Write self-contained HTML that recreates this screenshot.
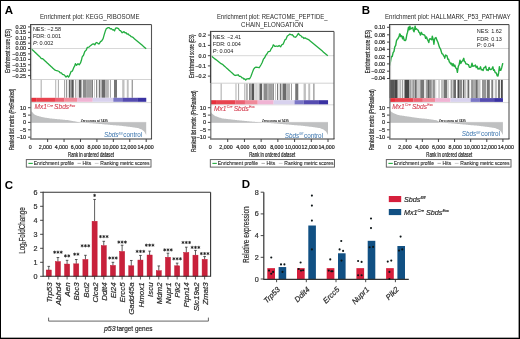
<!DOCTYPE html>
<html><head><meta charset="utf-8"><style>
html,body{margin:0;padding:0;background:#fff;}
.wrap{position:relative;width:520px;height:339px;overflow:hidden;background:#fff;}
svg{position:absolute;left:0;top:0;will-change:transform;}
svg text{font-family:"Liberation Sans", sans-serif;stroke:#2a2a2a;stroke-width:0.2px;}
svg text.r{stroke:#d33a4c;stroke-width:0.08px;}
svg text.bl{stroke:none;}
svg text.ns{stroke:none;}
svg text.th{stroke-width:0.1px;}
.b{position:absolute;left:0;top:0;width:518px;height:337px;border:1px solid #000;box-shadow:inset -0.6px -0.6px 0 #555;}
</style></head><body><div class="wrap">
<svg width="520" height="339" viewBox="0 0 520 339">
<line x1="31.60" y1="48.50" x2="151.50" y2="48.50" stroke="#d4d4d4" stroke-width="0.9" />
<line x1="30.60" y1="79.50" x2="151.50" y2="79.50" stroke="#c8c8c8" stroke-width="0.8" />
<line x1="30.60" y1="102.60" x2="151.50" y2="102.60" stroke="#d0d0d0" stroke-width="0.8" />
<rect x="40.70" y="79.90" width="0.90" height="17.90" fill="rgb(160,160,160)" />
<rect x="55.30" y="79.90" width="0.90" height="17.90" fill="rgb(171,171,171)" />
<rect x="57.90" y="79.90" width="0.90" height="17.90" fill="rgb(160,160,160)" />
<rect x="64.00" y="79.90" width="0.90" height="17.90" fill="rgb(160,160,160)" />
<rect x="65.90" y="79.90" width="1.30" height="17.90" fill="rgb(150,150,150)" />
<rect x="68.80" y="79.90" width="1.30" height="17.90" fill="rgb(97,97,97)" />
<rect x="70.10" y="79.90" width="1.30" height="17.90" fill="rgb(160,160,160)" />
<rect x="71.40" y="79.90" width="2.30" height="17.90" fill="rgb(87,87,87)" />
<rect x="75.00" y="79.90" width="1.00" height="17.90" fill="rgb(171,171,171)" />
<rect x="76.00" y="79.90" width="2.90" height="17.90" fill="rgb(223,223,223)" />
<rect x="78.90" y="79.90" width="2.60" height="17.90" fill="rgb(97,97,97)" />
<rect x="82.80" y="79.90" width="3.90" height="17.90" fill="rgb(139,139,139)" />
<rect x="86.70" y="79.90" width="1.30" height="17.90" fill="rgb(160,160,160)" />
<rect x="88.00" y="79.90" width="3.90" height="17.90" fill="rgb(160,160,160)" />
<rect x="91.90" y="79.90" width="1.10" height="17.90" fill="rgb(129,129,129)" />
<rect x="94.30" y="79.90" width="0.60" height="17.90" fill="rgb(171,171,171)" />
<rect x="96.20" y="79.90" width="1.00" height="17.90" fill="rgb(108,108,108)" />
<rect x="98.80" y="79.90" width="1.30" height="17.90" fill="rgb(118,118,118)" />
<rect x="100.10" y="79.90" width="1.60" height="17.90" fill="rgb(192,192,192)" />
<rect x="101.70" y="79.90" width="3.30" height="17.90" fill="rgb(108,108,108)" />
<rect x="105.00" y="79.90" width="3.90" height="17.90" fill="rgb(181,181,181)" />
<rect x="109.90" y="79.90" width="0.90" height="17.90" fill="rgb(150,150,150)" />
<rect x="114.00" y="79.90" width="3.00" height="17.90" fill="rgb(118,118,118)" />
<rect x="122.20" y="79.90" width="2.30" height="17.90" fill="rgb(192,192,192)" />
<rect x="126.80" y="79.90" width="1.90" height="17.90" fill="rgb(192,192,192)" />
<rect x="131.60" y="79.90" width="1.40" height="17.90" fill="rgb(160,160,160)" />
<rect x="31.20" y="97.80" width="4.99" height="4.00" fill="#e72f3b" />
<rect x="36.14" y="97.80" width="18.91" height="4.00" fill="#e8434f" />
<rect x="55.00" y="97.80" width="9.59" height="4.00" fill="#eb6273" />
<rect x="64.55" y="97.80" width="12.59" height="4.00" fill="#f08a9a" />
<rect x="77.08" y="97.80" width="15.69" height="4.00" fill="#f0b4d4" />
<rect x="92.72" y="97.80" width="20.63" height="4.00" fill="#d8d2ee" />
<rect x="113.31" y="97.80" width="9.02" height="4.00" fill="#7b77c6" />
<rect x="122.28" y="97.80" width="15.00" height="4.00" fill="#554cb0" />
<rect x="137.23" y="97.80" width="9.02" height="4.00" fill="#3a32a2" />
<polygon points="31.20,122.40 31.20,111.15 31.81,111.62 32.42,112.32 33.03,113.01 33.64,113.71 34.25,114.32 34.86,114.63 35.47,114.94 36.08,115.25 36.69,115.56 37.30,115.80 37.91,115.96 38.52,116.12 39.13,116.27 39.74,116.43 40.35,116.59 40.96,116.74 41.57,116.90 42.18,117.05 42.79,117.21 43.40,117.37 44.01,117.46 44.62,117.55 45.23,117.65 45.84,117.74 46.45,117.83 47.06,117.92 47.67,118.02 48.28,118.11 48.89,118.20 49.50,118.29 50.11,118.39 50.72,118.48 51.33,118.56 51.94,118.62 52.55,118.68 53.16,118.74 53.77,118.79 54.38,118.85 54.99,118.91 55.60,118.97 56.21,119.03 56.82,119.08 57.43,119.14 58.04,119.20 58.65,119.26 59.26,119.31 59.87,119.37 60.48,119.43 61.09,119.48 61.70,119.54 62.31,119.60 62.92,119.65 63.53,119.71 64.14,119.77 64.75,119.82 65.36,119.88 65.97,119.94 66.58,119.99 67.19,120.05 67.80,120.11 68.41,120.22 69.02,120.34 69.63,120.45 70.24,120.56 70.85,120.68 71.46,120.79 72.07,120.91 72.68,121.02 73.29,121.14 73.90,121.25 74.51,121.37 75.12,121.48 75.73,121.60 76.34,121.71 76.95,121.83 77.56,121.94 78.17,122.06 78.78,122.17 79.39,122.29 80.00,122.40 80.00,122.40" fill="#bfc0c1"/>
<polygon points="80.00,122.40 80.00,122.40 80.83,122.46 81.66,122.53 82.48,122.59 83.31,122.65 84.14,122.71 84.97,122.78 85.79,122.84 86.62,122.90 87.45,122.97 88.28,123.03 89.10,123.09 89.93,123.15 90.76,123.22 91.58,123.28 92.41,123.34 93.24,123.41 94.07,123.47 94.89,123.53 95.72,123.60 96.55,123.66 97.38,123.73 98.20,123.81 99.03,123.88 99.86,123.95 100.69,124.03 101.52,124.10 102.34,124.18 103.17,124.25 104.00,124.32 104.82,124.40 105.65,124.47 106.48,124.55 107.31,124.62 108.13,124.69 108.96,124.77 109.79,124.84 110.62,124.92 111.44,124.99 112.27,125.06 113.10,125.14 113.93,125.21 114.75,125.28 115.58,125.35 116.41,125.42 117.24,125.48 118.06,125.55 118.89,125.62 119.72,125.69 120.55,125.76 121.38,125.85 122.20,125.95 123.03,126.05 123.86,126.15 124.69,126.26 125.51,126.36 126.34,126.46 127.17,126.56 127.99,126.67 128.82,126.77 129.65,126.87 130.48,126.98 131.31,127.08 132.13,127.18 132.96,127.28 133.79,127.42 134.61,127.56 135.44,127.70 136.27,127.84 137.10,127.98 137.92,128.12 138.75,128.37 139.58,128.70 140.41,129.04 141.23,129.37 142.06,129.84 142.89,130.39 143.72,130.95 144.54,131.90 145.37,133.44 146.20,134.98 146.20,122.40" fill="#bfc0c1"/>
<line x1="31.20" y1="122.40" x2="146.20" y2="122.40" stroke="#b0b0b0" stroke-width="0.5" />
<text x="80.80" y="121.70" font-size="3.0" text-anchor="start" fill="#000" textLength="27.0" lengthAdjust="spacingAndGlyphs" class="th">Zero cross at 7435</text>
<polyline points="31.00,48.50 31.92,49.36 32.84,50.23 33.75,51.09 34.67,51.95 35.59,52.82 36.51,53.68 37.43,54.55 38.35,55.41 39.26,56.27 40.18,57.14 41.10,58.48 42.50,58.60 43.44,59.47 44.39,60.34 45.33,61.21 46.27,62.09 47.21,62.96 48.16,63.83 49.10,64.70 50.04,65.57 50.99,66.44 51.93,67.31 52.87,68.19 53.81,69.06 54.76,69.93 55.70,70.32 57.50,70.77 59.10,71.52 60.23,72.91 61.37,72.83 62.50,74.38 64.20,74.84 66.00,76.96 67.50,75.64 68.50,77.15 69.40,75.79 70.20,73.80 71.10,71.41 72.30,71.20 73.70,67.70 74.50,66.48 75.40,63.66 76.50,65.31 78.00,63.76 79.20,64.76 80.50,62.94 81.40,60.31 82.20,56.84 83.50,55.28 84.80,51.54 86.20,50.13 87.40,47.35 89.00,47.03 90.50,45.64 92.30,44.16 94.00,43.80 94.80,44.93 96.20,42.50 97.40,42.89 98.30,43.79 99.10,43.86 100.50,41.57 101.70,40.91 103.10,38.63 104.30,34.42 105.30,31.07 106.50,28.27 107.30,28.11 108.20,27.59 109.20,27.59 110.30,28.91 111.40,28.65 112.50,29.91 113.50,29.76 114.50,30.92 115.60,28.13 116.80,27.83 118.50,28.56 119.50,30.27 120.50,30.54 122.20,32.76 124.00,31.59 125.00,32.90 126.00,32.73 127.10,34.15 128.20,33.98 129.10,35.18 130.00,35.34 131.25,36.74 132.50,37.10 133.41,37.87 134.33,38.65 135.24,39.42 136.15,40.19 137.07,40.97 137.98,41.74 138.89,42.51 139.81,43.29 140.72,44.06 141.63,44.83 142.55,45.61 143.46,46.38 144.37,47.15 145.29,47.93 146.20,48.70" fill="none" stroke="#22ad3f" stroke-width="1.3" stroke-linejoin="round"/>
<line x1="30.60" y1="24.60" x2="151.50" y2="24.60" stroke="#3a3a3a" stroke-width="1" />
<line x1="151.50" y1="24.60" x2="151.50" y2="139.00" stroke="#555" stroke-width="1.1" />
<line x1="30.10" y1="139.00" x2="152.00" y2="139.00" stroke="#333" stroke-width="1" />
<line x1="30.60" y1="24.10" x2="30.60" y2="79.50" stroke="#444" stroke-width="1.1" />
<line x1="31.60" y1="25.10" x2="31.60" y2="79.50" stroke="#b8b8b8" stroke-width="0.8" />
<line x1="30.90" y1="79.50" x2="30.90" y2="139.00" stroke="#6e6e6e" stroke-width="1.2" />
<line x1="28.00" y1="26.90" x2="30.60" y2="26.90" stroke="#333" stroke-width="0.9" />
<text x="26.00" y="28.80" font-size="5.4" text-anchor="end" fill="#222" >0.20</text>
<line x1="28.00" y1="32.30" x2="30.60" y2="32.30" stroke="#333" stroke-width="0.9" />
<text x="26.00" y="34.20" font-size="5.4" text-anchor="end" fill="#222" >0.15</text>
<line x1="28.00" y1="37.70" x2="30.60" y2="37.70" stroke="#333" stroke-width="0.9" />
<text x="26.00" y="39.60" font-size="5.4" text-anchor="end" fill="#222" >0.10</text>
<line x1="28.00" y1="43.20" x2="30.60" y2="43.20" stroke="#333" stroke-width="0.9" />
<text x="26.00" y="45.10" font-size="5.4" text-anchor="end" fill="#222" >0.05</text>
<line x1="28.00" y1="48.50" x2="30.60" y2="48.50" stroke="#333" stroke-width="0.9" />
<text x="26.00" y="50.40" font-size="5.4" text-anchor="end" fill="#222" >0.00</text>
<line x1="28.00" y1="53.90" x2="30.60" y2="53.90" stroke="#333" stroke-width="0.9" />
<text x="26.00" y="55.80" font-size="5.4" text-anchor="end" fill="#222" >−0.05</text>
<line x1="28.00" y1="59.40" x2="30.60" y2="59.40" stroke="#333" stroke-width="0.9" />
<text x="26.00" y="61.30" font-size="5.4" text-anchor="end" fill="#222" >−0.10</text>
<line x1="28.00" y1="64.80" x2="30.60" y2="64.80" stroke="#333" stroke-width="0.9" />
<text x="26.00" y="66.70" font-size="5.4" text-anchor="end" fill="#222" >−0.15</text>
<line x1="28.00" y1="70.20" x2="30.60" y2="70.20" stroke="#333" stroke-width="0.9" />
<text x="26.00" y="72.10" font-size="5.4" text-anchor="end" fill="#222" >−0.20</text>
<line x1="28.00" y1="75.60" x2="30.60" y2="75.60" stroke="#333" stroke-width="0.9" />
<text x="26.00" y="77.50" font-size="5.4" text-anchor="end" fill="#222" >−0.25</text>
<line x1="28.00" y1="107.70" x2="30.60" y2="107.70" stroke="#333" stroke-width="0.9" />
<text x="26.20" y="109.70" font-size="5.6" text-anchor="end" fill="#222" >10</text>
<line x1="28.00" y1="115.10" x2="30.60" y2="115.10" stroke="#333" stroke-width="0.9" />
<text x="26.20" y="117.10" font-size="5.6" text-anchor="end" fill="#222" >5</text>
<line x1="28.00" y1="122.40" x2="30.60" y2="122.40" stroke="#333" stroke-width="0.9" />
<text x="26.20" y="124.40" font-size="5.6" text-anchor="end" fill="#222" >0</text>
<line x1="28.00" y1="129.80" x2="30.60" y2="129.80" stroke="#333" stroke-width="0.9" />
<text x="26.20" y="131.80" font-size="5.6" text-anchor="end" fill="#222" >−5</text>
<line x1="28.00" y1="137.20" x2="30.60" y2="137.20" stroke="#333" stroke-width="0.9" />
<text x="26.20" y="139.20" font-size="5.6" text-anchor="end" fill="#222" >−10</text>
<text x="30.15" y="149.00" font-size="5.3" text-anchor="middle" fill="#222" >0</text>
<line x1="47.63" y1="139.00" x2="47.63" y2="142.00" stroke="#333" stroke-width="0.9" />
<text x="45.35" y="149.00" font-size="5.3" text-anchor="middle" fill="#222" >2,000</text>
<line x1="64.06" y1="139.00" x2="64.06" y2="142.00" stroke="#333" stroke-width="0.9" />
<text x="61.30" y="149.00" font-size="5.3" text-anchor="middle" fill="#222" >4,000</text>
<line x1="80.49" y1="139.00" x2="80.49" y2="142.00" stroke="#333" stroke-width="0.9" />
<text x="77.50" y="149.00" font-size="5.3" text-anchor="middle" fill="#222" >6,000</text>
<line x1="96.91" y1="139.00" x2="96.91" y2="142.00" stroke="#333" stroke-width="0.9" />
<text x="94.10" y="149.00" font-size="5.3" text-anchor="middle" fill="#222" >8,000</text>
<line x1="113.34" y1="139.00" x2="113.34" y2="142.00" stroke="#333" stroke-width="0.9" />
<text x="110.60" y="149.00" font-size="5.3" text-anchor="middle" fill="#222" >10,000</text>
<line x1="129.77" y1="139.00" x2="129.77" y2="142.00" stroke="#333" stroke-width="0.9" />
<text x="128.30" y="149.00" font-size="5.3" text-anchor="middle" fill="#222" >12,000</text>
<line x1="146.20" y1="139.00" x2="146.20" y2="142.00" stroke="#333" stroke-width="0.9" />
<text x="145.60" y="149.00" font-size="5.3" text-anchor="middle" fill="#222" >14,000</text>
<text x="40.00" y="19.00" font-size="6.6" text-anchor="start" fill="#2a2a2a" textLength="99.5" lengthAdjust="spacingAndGlyphs" class="ns">Enrichment plot: KEGG_RIBOSOME</text>
<text x="32.90" y="30.70" font-size="5.5" text-anchor="start" fill="#1a1a1a" class="ns">NES: −2.58</text>
<text x="32.90" y="37.60" font-size="5.5" text-anchor="start" fill="#1a1a1a" class="ns">FDR: 0.001</text>
<text x="32.90" y="44.60" font-size="5.5" text-anchor="start" fill="#1a1a1a" class="ns"><tspan font-style="italic">P</tspan>: 0.002</text>
<text x="91.05" y="156.80" font-size="6.4" text-anchor="middle" fill="#111" textLength="46" lengthAdjust="spacingAndGlyphs" >Rank in ordered dataset</text>
<text transform="translate(10.10,50.90) rotate(-90)" font-size="6.5" text-anchor="middle" fill="#222" textLength="43.6" lengthAdjust="spacingAndGlyphs">Enrichment score (ES)</text>
<text transform="translate(13.90,119.50) rotate(-90)" font-size="6.8" text-anchor="middle" fill="#222" textLength="61.2" lengthAdjust="spacingAndGlyphs">Ranked list metric (PreRanked)</text>
<text x="34.40" y="109.3" font-size="6.6" font-style="italic" fill="#d33a4c" class="r">Mx1<tspan font-size="3.5" dy="-2.6" dx="0.4">Cre</tspan><tspan dy="2.6" dx="1.2">Sbds</tspan><tspan font-size="3.5" dy="-2.6" dx="0.3">Exc</tspan></text>
<text x="104.00" y="137.2" font-size="6.35" fill="#3a74ad" class="bl"><tspan font-style="italic">Sbds</tspan><tspan font-size="3.0" dy="-2.6" font-style="italic">fl/fl</tspan><tspan dy="2.6" dx="0.9">control</tspan></text>
<rect x="26.30" y="159.6" width="124.70" height="7.5" fill="#fff" stroke="#555" stroke-width="0.9"/>
<line x1="28.40" y1="163.40" x2="32.80" y2="163.40" stroke="#22ad3f" stroke-width="1.1" />
<text x="33.80" y="165.20" font-size="5.4" text-anchor="start" fill="#222" textLength="40.2" lengthAdjust="spacingAndGlyphs" class="th">Enrichment profile</text>
<line x1="77.50" y1="163.40" x2="80.90" y2="163.40" stroke="#777" stroke-width="0.6" />
<text x="82.50" y="165.20" font-size="5.4" text-anchor="start" fill="#222" textLength="8.7" lengthAdjust="spacingAndGlyphs" class="th">Hits</text>
<line x1="94.80" y1="163.40" x2="98.60" y2="163.40" stroke="#aaa" stroke-width="0.6" />
<text x="100.30" y="165.20" font-size="5.4" text-anchor="start" fill="#222" textLength="49.2" lengthAdjust="spacingAndGlyphs" class="th">Ranking metric scores</text>
<line x1="211.50" y1="55.70" x2="334.00" y2="55.70" stroke="#d4d4d4" stroke-width="0.9" />
<line x1="210.50" y1="83.20" x2="334.00" y2="83.20" stroke="#c8c8c8" stroke-width="0.8" />
<line x1="210.50" y1="104.80" x2="334.00" y2="104.80" stroke="#d0d0d0" stroke-width="0.8" />
<rect x="220.67" y="83.60" width="0.92" height="16.60" fill="rgb(160,160,160)" />
<rect x="235.52" y="83.60" width="0.92" height="16.60" fill="rgb(171,171,171)" />
<rect x="238.16" y="83.60" width="0.92" height="16.60" fill="rgb(160,160,160)" />
<rect x="244.37" y="83.60" width="0.92" height="16.60" fill="rgb(160,160,160)" />
<rect x="246.30" y="83.60" width="1.32" height="16.60" fill="rgb(150,150,150)" />
<rect x="249.25" y="83.60" width="1.32" height="16.60" fill="rgb(97,97,97)" />
<rect x="250.58" y="83.60" width="1.32" height="16.60" fill="rgb(160,160,160)" />
<rect x="251.90" y="83.60" width="2.34" height="16.60" fill="rgb(87,87,87)" />
<rect x="255.56" y="83.60" width="1.02" height="16.60" fill="rgb(171,171,171)" />
<rect x="256.58" y="83.60" width="2.95" height="16.60" fill="rgb(223,223,223)" />
<rect x="259.53" y="83.60" width="2.65" height="16.60" fill="rgb(97,97,97)" />
<rect x="263.50" y="83.60" width="3.97" height="16.60" fill="rgb(139,139,139)" />
<rect x="267.47" y="83.60" width="1.32" height="16.60" fill="rgb(160,160,160)" />
<rect x="268.79" y="83.60" width="3.97" height="16.60" fill="rgb(160,160,160)" />
<rect x="272.76" y="83.60" width="1.12" height="16.60" fill="rgb(129,129,129)" />
<rect x="275.20" y="83.60" width="0.61" height="16.60" fill="rgb(171,171,171)" />
<rect x="277.13" y="83.60" width="1.02" height="16.60" fill="rgb(108,108,108)" />
<rect x="279.78" y="83.60" width="1.32" height="16.60" fill="rgb(118,118,118)" />
<rect x="281.10" y="83.60" width="1.63" height="16.60" fill="rgb(192,192,192)" />
<rect x="282.73" y="83.60" width="3.36" height="16.60" fill="rgb(108,108,108)" />
<rect x="286.08" y="83.60" width="3.97" height="16.60" fill="rgb(181,181,181)" />
<rect x="291.07" y="83.60" width="0.92" height="16.60" fill="rgb(150,150,150)" />
<rect x="295.24" y="83.60" width="3.05" height="16.60" fill="rgb(118,118,118)" />
<rect x="303.58" y="83.60" width="2.34" height="16.60" fill="rgb(192,192,192)" />
<rect x="308.26" y="83.60" width="1.93" height="16.60" fill="rgb(192,192,192)" />
<rect x="313.15" y="83.60" width="1.42" height="16.60" fill="rgb(160,160,160)" />
<rect x="211.00" y="100.20" width="5.08" height="4.10" fill="#e72f3b" />
<rect x="216.03" y="100.20" width="19.24" height="4.10" fill="#e8434f" />
<rect x="235.22" y="100.20" width="9.76" height="4.10" fill="#eb6273" />
<rect x="244.93" y="100.20" width="12.80" height="4.10" fill="#f08a9a" />
<rect x="257.68" y="100.20" width="15.96" height="4.10" fill="#f0b4d4" />
<rect x="273.60" y="100.20" width="20.99" height="4.10" fill="#d8d2ee" />
<rect x="294.54" y="100.20" width="9.18" height="4.10" fill="#7b77c6" />
<rect x="303.66" y="100.20" width="15.26" height="4.10" fill="#554cb0" />
<rect x="318.87" y="100.20" width="9.18" height="4.10" fill="#3a32a2" />
<polygon points="211.00,122.40 211.00,112.04 211.62,113.32 212.25,113.83 212.88,114.33 213.50,114.83 214.12,115.33 214.75,115.84 215.38,116.16 216.00,116.37 216.62,116.59 217.25,116.80 217.88,117.01 218.50,117.22 219.12,117.43 219.75,117.64 220.38,117.85 221.00,118.07 221.62,118.28 222.25,118.43 222.88,118.50 223.50,118.57 224.12,118.65 224.75,118.72 225.38,118.79 226.00,118.86 226.62,118.93 227.25,119.00 227.88,119.07 228.50,119.14 229.12,119.21 229.75,119.28 230.38,119.35 231.00,119.43 231.62,119.50 232.25,119.57 232.88,119.64 233.50,119.71 234.12,119.78 234.75,119.85 235.38,119.92 236.00,119.99 236.62,120.06 237.25,120.13 237.88,120.19 238.50,120.26 239.12,120.32 239.75,120.38 240.38,120.44 241.00,120.51 241.62,120.57 242.25,120.63 242.88,120.69 243.50,120.76 244.12,120.82 244.75,120.88 245.38,120.94 246.00,121.01 246.62,121.07 247.25,121.13 247.88,121.19 248.50,121.26 249.12,121.32 249.75,121.38 250.38,121.45 251.00,121.51 251.62,121.57 252.25,121.63 252.88,121.70 253.50,121.76 254.12,121.82 254.75,121.87 255.38,121.92 256.00,121.98 256.62,122.03 257.25,122.08 257.88,122.14 258.50,122.19 259.12,122.24 259.75,122.29 260.38,122.35 261.00,122.40 261.00,122.40" fill="#bfc0c1"/>
<polygon points="261.00,122.40 261.00,122.40 261.84,122.46 262.68,122.53 263.51,122.59 264.35,122.65 265.19,122.71 266.02,122.78 266.86,122.84 267.70,122.90 268.54,122.97 269.38,123.03 270.21,123.09 271.05,123.15 271.89,123.22 272.73,123.28 273.56,123.34 274.40,123.41 275.24,123.47 276.07,123.53 276.91,123.60 277.75,123.66 278.59,123.73 279.43,123.81 280.26,123.88 281.10,123.95 281.94,124.03 282.77,124.10 283.61,124.18 284.45,124.25 285.29,124.32 286.12,124.40 286.96,124.47 287.80,124.55 288.64,124.62 289.48,124.69 290.31,124.77 291.15,124.84 291.99,124.92 292.82,124.99 293.66,125.06 294.50,125.14 295.34,125.21 296.18,125.28 297.01,125.35 297.85,125.42 298.69,125.48 299.52,125.55 300.36,125.62 301.20,125.69 302.04,125.76 302.88,125.85 303.71,125.95 304.55,126.05 305.39,126.15 306.23,126.26 307.06,126.36 307.90,126.46 308.74,126.56 309.57,126.67 310.41,126.77 311.25,126.87 312.09,126.98 312.93,127.08 313.76,127.18 314.60,127.28 315.44,127.42 316.27,127.56 317.11,127.70 317.95,127.84 318.79,127.98 319.62,128.12 320.46,128.37 321.30,128.70 322.14,129.04 322.98,129.37 323.81,129.84 324.65,130.39 325.49,130.95 326.32,131.90 327.16,133.44 328.00,134.98 328.00,122.40" fill="#bfc0c1"/>
<line x1="211.00" y1="122.40" x2="328.00" y2="122.40" stroke="#b0b0b0" stroke-width="0.5" />
<text x="262.10" y="121.70" font-size="3.0" text-anchor="start" fill="#000" textLength="26.599999999999966" lengthAdjust="spacingAndGlyphs" class="th">Zero cross at 7435</text>
<polyline points="211.00,55.80 211.92,56.52 212.83,57.23 213.75,57.95 214.67,58.67 215.58,59.38 216.50,60.10 217.42,60.82 218.33,61.53 219.25,62.25 220.17,62.97 221.08,63.68 222.00,64.03 223.00,64.80 223.95,65.65 224.89,66.51 225.84,67.36 226.78,68.22 227.73,69.07 228.68,69.92 229.62,70.78 230.57,71.63 231.52,72.48 232.46,73.34 233.41,74.19 234.35,75.05 235.30,75.49 236.90,75.03 238.15,74.77 239.40,76.31 240.70,76.38 242.00,77.96 242.93,77.94 243.85,79.18 244.77,78.77 245.70,80.07 247.00,78.81 248.50,78.71 249.50,78.96 251.00,76.24 252.30,72.65 253.50,69.45 254.80,67.77 256.00,67.05 257.50,67.33 259.20,67.72 260.90,64.99 262.20,62.43 263.40,59.20 264.65,57.72 265.90,55.11 267.10,53.80 268.30,51.55 270.00,51.32 271.50,48.27 272.40,47.39 273.30,44.84 275.00,46.45 276.60,46.01 277.85,46.49 279.10,45.41 280.70,46.72 282.00,44.52 283.20,44.09 284.90,39.91 286.00,39.26 287.30,36.05 288.50,35.28 289.80,34.09 291.05,34.80 292.30,34.73 294.00,36.76 295.60,37.24 297.00,35.65 298.40,33.41 299.70,35.17 301.00,35.74 301.93,37.17 302.87,37.15 303.80,38.46 305.05,37.88 306.30,38.60 308.00,39.33 309.60,40.40 310.51,41.16 311.42,41.93 312.33,42.70 313.24,43.46 314.15,44.23 315.06,44.99 315.97,45.76 316.88,46.52 317.79,47.29 318.70,48.05 319.61,48.81 320.52,49.58 321.43,50.34 322.34,51.11 323.25,51.88 324.16,52.64 325.07,53.41 325.98,54.17 326.89,54.94 327.80,55.70" fill="none" stroke="#22ad3f" stroke-width="1.3" stroke-linejoin="round"/>
<line x1="210.50" y1="31.40" x2="334.00" y2="31.40" stroke="#3a3a3a" stroke-width="1" />
<line x1="334.00" y1="31.40" x2="334.00" y2="139.00" stroke="#555" stroke-width="1.1" />
<line x1="210.00" y1="139.00" x2="334.50" y2="139.00" stroke="#333" stroke-width="1" />
<line x1="210.50" y1="30.90" x2="210.50" y2="83.20" stroke="#444" stroke-width="1.1" />
<line x1="211.50" y1="31.90" x2="211.50" y2="83.20" stroke="#b8b8b8" stroke-width="0.8" />
<line x1="210.80" y1="83.20" x2="210.80" y2="139.00" stroke="#6e6e6e" stroke-width="1.2" />
<line x1="207.90" y1="35.10" x2="210.50" y2="35.10" stroke="#333" stroke-width="0.9" />
<text x="205.90" y="37.00" font-size="5.4" text-anchor="end" fill="#222" >0.2</text>
<line x1="207.90" y1="45.40" x2="210.50" y2="45.40" stroke="#333" stroke-width="0.9" />
<text x="205.90" y="47.30" font-size="5.4" text-anchor="end" fill="#222" >0.1</text>
<line x1="207.90" y1="55.70" x2="210.50" y2="55.70" stroke="#333" stroke-width="0.9" />
<text x="205.90" y="57.60" font-size="5.4" text-anchor="end" fill="#222" >0.0</text>
<line x1="207.90" y1="65.90" x2="210.50" y2="65.90" stroke="#333" stroke-width="0.9" />
<text x="205.90" y="67.80" font-size="5.4" text-anchor="end" fill="#222" >−0.1</text>
<line x1="207.90" y1="76.10" x2="210.50" y2="76.10" stroke="#333" stroke-width="0.9" />
<text x="205.90" y="78.00" font-size="5.4" text-anchor="end" fill="#222" >−0.2</text>
<line x1="207.90" y1="107.70" x2="210.50" y2="107.70" stroke="#333" stroke-width="0.9" />
<text x="206.10" y="109.70" font-size="5.6" text-anchor="end" fill="#222" >10</text>
<line x1="207.90" y1="115.10" x2="210.50" y2="115.10" stroke="#333" stroke-width="0.9" />
<text x="206.10" y="117.10" font-size="5.6" text-anchor="end" fill="#222" >5</text>
<line x1="207.90" y1="122.40" x2="210.50" y2="122.40" stroke="#333" stroke-width="0.9" />
<text x="206.10" y="124.40" font-size="5.6" text-anchor="end" fill="#222" >0</text>
<line x1="207.90" y1="129.80" x2="210.50" y2="129.80" stroke="#333" stroke-width="0.9" />
<text x="206.10" y="131.80" font-size="5.6" text-anchor="end" fill="#222" >−5</text>
<line x1="207.90" y1="137.20" x2="210.50" y2="137.20" stroke="#333" stroke-width="0.9" />
<text x="206.10" y="139.20" font-size="5.6" text-anchor="end" fill="#222" >−10</text>
<text x="210.25" y="149.00" font-size="5.3" text-anchor="middle" fill="#222" >0</text>
<line x1="227.71" y1="139.00" x2="227.71" y2="142.00" stroke="#333" stroke-width="0.9" />
<text x="226.00" y="149.00" font-size="5.3" text-anchor="middle" fill="#222" >2,000</text>
<line x1="244.43" y1="139.00" x2="244.43" y2="142.00" stroke="#333" stroke-width="0.9" />
<text x="242.80" y="149.00" font-size="5.3" text-anchor="middle" fill="#222" >4,000</text>
<line x1="261.14" y1="139.00" x2="261.14" y2="142.00" stroke="#333" stroke-width="0.9" />
<text x="259.70" y="149.00" font-size="5.3" text-anchor="middle" fill="#222" >6,000</text>
<line x1="277.86" y1="139.00" x2="277.86" y2="142.00" stroke="#333" stroke-width="0.9" />
<text x="276.80" y="149.00" font-size="5.3" text-anchor="middle" fill="#222" >8,000</text>
<line x1="294.57" y1="139.00" x2="294.57" y2="142.00" stroke="#333" stroke-width="0.9" />
<text x="293.10" y="149.00" font-size="5.3" text-anchor="middle" fill="#222" >10,000</text>
<line x1="311.29" y1="139.00" x2="311.29" y2="142.00" stroke="#333" stroke-width="0.9" />
<text x="309.70" y="149.00" font-size="5.3" text-anchor="middle" fill="#222" >12,000</text>
<line x1="328.00" y1="139.00" x2="328.00" y2="142.00" stroke="#333" stroke-width="0.9" />
<text x="326.50" y="149.00" font-size="5.3" text-anchor="middle" fill="#222" >14,000</text>
<text x="216.90" y="19.20" font-size="6.6" text-anchor="start" fill="#2a2a2a" textLength="110.6" lengthAdjust="spacingAndGlyphs" class="ns">Enrichment plot: REACTOME_PEPTIDE_</text>
<text x="241.00" y="26.80" font-size="6.6" text-anchor="start" fill="#2a2a2a" textLength="62.5" lengthAdjust="spacingAndGlyphs" class="ns">CHAIN_ELONGATION</text>
<text x="212.80" y="38.70" font-size="5.5" text-anchor="start" fill="#1a1a1a" class="ns">NES: −2.41</text>
<text x="212.80" y="45.70" font-size="5.5" text-anchor="start" fill="#1a1a1a" class="ns">FDR: 0.004</text>
<text x="212.80" y="52.60" font-size="5.5" text-anchor="start" fill="#1a1a1a" class="ns"><tspan font-style="italic">P</tspan>: 0.004</text>
<text x="272.25" y="156.80" font-size="6.4" text-anchor="middle" fill="#111" textLength="46" lengthAdjust="spacingAndGlyphs" >Rank in ordered dataset</text>
<text transform="translate(194.00,56.20) rotate(-90)" font-size="6.5" text-anchor="middle" fill="#222" textLength="43.5" lengthAdjust="spacingAndGlyphs">Enrichment score (ES)</text>
<text transform="translate(196.00,121.10) rotate(-90)" font-size="6.8" text-anchor="middle" fill="#222" textLength="61.2" lengthAdjust="spacingAndGlyphs">Ranked list metric (PreRanked)</text>
<text x="214.00" y="110.7" font-size="6.6" font-style="italic" fill="#d33a4c" class="r">Mx1<tspan font-size="3.5" dy="-2.6" dx="0.4">Cre</tspan><tspan dy="2.6" dx="1.2">Sbds</tspan><tspan font-size="3.5" dy="-2.6" dx="0.3">Exc</tspan></text>
<text x="284.80" y="137.6" font-size="6.35" fill="#3a74ad" class="bl"><tspan font-style="italic">Sbds</tspan><tspan font-size="3.0" dy="-2.6" font-style="italic">fl/fl</tspan><tspan dy="2.6" dx="0.9">control</tspan></text>
<rect x="210.30" y="159.6" width="124.20" height="7.5" fill="#fff" stroke="#555" stroke-width="0.9"/>
<line x1="212.40" y1="163.40" x2="216.80" y2="163.40" stroke="#22ad3f" stroke-width="1.1" />
<text x="217.80" y="165.20" font-size="5.4" text-anchor="start" fill="#222" textLength="40.2" lengthAdjust="spacingAndGlyphs" class="th">Enrichment profile</text>
<line x1="261.50" y1="163.40" x2="264.90" y2="163.40" stroke="#777" stroke-width="0.6" />
<text x="266.50" y="165.20" font-size="5.4" text-anchor="start" fill="#222" textLength="8.7" lengthAdjust="spacingAndGlyphs" class="th">Hits</text>
<line x1="278.80" y1="163.40" x2="282.60" y2="163.40" stroke="#aaa" stroke-width="0.6" />
<text x="284.30" y="165.20" font-size="5.4" text-anchor="start" fill="#222" textLength="49.2" lengthAdjust="spacingAndGlyphs" class="th">Ranking metric scores</text>
<line x1="390.60" y1="48.50" x2="509.00" y2="48.50" stroke="#d4d4d4" stroke-width="0.9" />
<line x1="389.60" y1="79.50" x2="509.00" y2="79.50" stroke="#c8c8c8" stroke-width="0.8" />
<line x1="389.60" y1="102.60" x2="509.00" y2="102.60" stroke="#d0d0d0" stroke-width="0.8" />
<rect x="389.50" y="79.90" width="4.70" height="18.20" fill="rgb(87,87,87)" />
<rect x="394.20" y="79.90" width="3.40" height="18.20" fill="rgb(70,70,70)" />
<rect x="397.60" y="79.90" width="0.80" height="18.20" fill="rgb(150,150,150)" />
<rect x="399.50" y="79.90" width="1.20" height="18.20" fill="rgb(160,160,160)" />
<rect x="401.80" y="79.90" width="1.20" height="18.20" fill="rgb(160,160,160)" />
<rect x="403.80" y="79.90" width="1.10" height="18.20" fill="rgb(150,150,150)" />
<rect x="404.90" y="79.90" width="4.30" height="18.20" fill="rgb(70,70,70)" />
<rect x="409.20" y="79.90" width="1.90" height="18.20" fill="rgb(160,160,160)" />
<rect x="411.10" y="79.90" width="1.50" height="18.20" fill="rgb(192,192,192)" />
<rect x="412.60" y="79.90" width="1.20" height="18.20" fill="rgb(129,129,129)" />
<rect x="414.50" y="79.90" width="2.30" height="18.20" fill="rgb(108,108,108)" />
<rect x="416.80" y="79.90" width="3.50" height="18.20" fill="rgb(202,202,202)" />
<rect x="420.30" y="79.90" width="3.90" height="18.20" fill="rgb(118,118,118)" />
<rect x="425.70" y="79.90" width="1.80" height="18.20" fill="rgb(160,160,160)" />
<rect x="427.50" y="79.90" width="1.50" height="18.20" fill="rgb(97,97,97)" />
<rect x="429.00" y="79.90" width="2.80" height="18.20" fill="rgb(139,139,139)" />
<rect x="431.80" y="79.90" width="1.50" height="18.20" fill="rgb(192,192,192)" />
<rect x="433.30" y="79.90" width="1.50" height="18.20" fill="rgb(108,108,108)" />
<rect x="434.80" y="79.90" width="1.60" height="18.20" fill="rgb(223,223,223)" />
<rect x="438.30" y="79.90" width="1.50" height="18.20" fill="rgb(202,202,202)" />
<rect x="441.00" y="79.90" width="3.00" height="18.20" fill="rgb(192,192,192)" />
<rect x="444.00" y="79.90" width="3.20" height="18.20" fill="rgb(118,118,118)" />
<rect x="447.20" y="79.90" width="1.80" height="18.20" fill="rgb(213,213,213)" />
<rect x="450.60" y="79.90" width="1.90" height="18.20" fill="rgb(160,160,160)" />
<rect x="453.30" y="79.90" width="2.70" height="18.20" fill="rgb(108,108,108)" />
<rect x="457.50" y="79.90" width="1.60" height="18.20" fill="rgb(76,76,76)" />
<rect x="459.10" y="79.90" width="3.10" height="18.20" fill="rgb(139,139,139)" />
<rect x="463.00" y="79.90" width="1.50" height="18.20" fill="rgb(97,97,97)" />
<rect x="464.50" y="79.90" width="1.80" height="18.20" fill="rgb(192,192,192)" />
<rect x="467.50" y="79.90" width="1.50" height="18.20" fill="rgb(108,108,108)" />
<rect x="469.00" y="79.90" width="1.20" height="18.20" fill="rgb(213,213,213)" />
<rect x="471.30" y="79.90" width="1.50" height="18.20" fill="rgb(118,118,118)" />
<rect x="472.80" y="79.90" width="2.70" height="18.20" fill="rgb(171,171,171)" />
<rect x="475.50" y="79.90" width="2.30" height="18.20" fill="rgb(108,108,108)" />
<rect x="477.80" y="79.90" width="2.70" height="18.20" fill="rgb(192,192,192)" />
<rect x="482.00" y="79.90" width="4.30" height="18.20" fill="rgb(150,150,150)" />
<rect x="487.00" y="79.90" width="2.80" height="18.20" fill="rgb(118,118,118)" />
<rect x="491.30" y="79.90" width="1.90" height="18.20" fill="rgb(129,129,129)" />
<rect x="494.80" y="79.90" width="2.30" height="18.20" fill="rgb(192,192,192)" />
<rect x="498.20" y="79.90" width="1.60" height="18.20" fill="rgb(87,87,87)" />
<rect x="500.90" y="79.90" width="1.90" height="18.20" fill="rgb(76,76,76)" />
<rect x="390.10" y="98.10" width="4.90" height="3.80" fill="#e72f3b" />
<rect x="394.95" y="98.10" width="18.55" height="3.80" fill="#e8434f" />
<rect x="413.45" y="98.10" width="9.41" height="3.80" fill="#eb6273" />
<rect x="422.81" y="98.10" width="12.35" height="3.80" fill="#f08a9a" />
<rect x="435.11" y="98.10" width="15.39" height="3.80" fill="#f0b4d4" />
<rect x="450.45" y="98.10" width="20.24" height="3.80" fill="#d8d2ee" />
<rect x="470.64" y="98.10" width="8.85" height="3.80" fill="#7b77c6" />
<rect x="479.44" y="98.10" width="14.71" height="3.80" fill="#554cb0" />
<rect x="494.10" y="98.10" width="8.85" height="3.80" fill="#3a32a2" />
<polygon points="390.10,122.40 390.10,110.56 390.71,111.18 391.32,111.66 391.93,112.14 392.55,112.62 393.16,113.05 393.77,113.30 394.38,113.55 394.99,113.80 395.60,114.05 396.21,114.30 396.82,114.55 397.44,114.80 398.05,115.02 398.66,115.11 399.27,115.20 399.88,115.30 400.49,115.39 401.10,115.48 401.71,115.57 402.33,115.67 402.94,115.76 403.55,115.85 404.16,115.94 404.77,116.04 405.38,116.13 405.99,116.22 406.60,116.31 407.22,116.41 407.83,116.50 408.44,116.59 409.05,116.68 409.66,116.77 410.27,116.86 410.88,116.95 411.49,117.04 412.11,117.13 412.72,117.22 413.33,117.31 413.94,117.41 414.55,117.50 415.16,117.59 415.77,117.68 416.38,117.77 417.00,117.86 417.61,117.95 418.22,118.03 418.83,118.09 419.44,118.15 420.05,118.21 420.66,118.26 421.27,118.32 421.88,118.38 422.50,118.44 423.11,118.50 423.72,118.56 424.33,118.62 424.94,118.68 425.55,118.74 426.16,118.80 426.77,118.85 427.39,118.91 428.00,118.97 428.61,119.05 429.22,119.14 429.83,119.24 430.44,119.33 431.05,119.42 431.67,119.51 432.28,119.61 432.89,119.70 433.50,119.79 434.11,119.88 434.72,119.98 435.33,120.07 435.94,120.16 436.56,120.25 437.17,120.46 437.78,121.11 438.39,121.75 439.00,122.40 439.00,122.40" fill="#bfc0c1"/>
<polygon points="439.00,122.40 439.00,122.40 439.80,122.46 440.60,122.53 441.40,122.59 442.19,122.65 442.99,122.71 443.79,122.78 444.59,122.84 445.39,122.90 446.19,122.97 446.99,123.03 447.79,123.09 448.58,123.15 449.38,123.22 450.18,123.28 450.98,123.34 451.78,123.41 452.58,123.47 453.38,123.53 454.18,123.60 454.98,123.66 455.77,123.73 456.57,123.81 457.37,123.88 458.17,123.95 458.97,124.03 459.77,124.10 460.57,124.18 461.37,124.25 462.16,124.32 462.96,124.40 463.76,124.47 464.56,124.55 465.36,124.62 466.16,124.69 466.96,124.77 467.75,124.84 468.55,124.92 469.35,124.99 470.15,125.06 470.95,125.14 471.75,125.21 472.55,125.28 473.35,125.35 474.14,125.42 474.94,125.48 475.74,125.55 476.54,125.62 477.34,125.69 478.14,125.76 478.94,125.85 479.74,125.95 480.53,126.05 481.33,126.15 482.13,126.26 482.93,126.36 483.73,126.46 484.53,126.56 485.33,126.67 486.13,126.77 486.92,126.87 487.72,126.98 488.52,127.08 489.32,127.18 490.12,127.28 490.92,127.42 491.72,127.56 492.52,127.70 493.31,127.84 494.11,127.98 494.91,128.12 495.71,128.37 496.51,128.70 497.31,129.04 498.11,129.37 498.91,129.84 499.70,130.39 500.50,130.95 501.30,131.90 502.10,133.44 502.90,134.98 502.90,122.40" fill="#bfc0c1"/>
<line x1="390.10" y1="122.40" x2="502.90" y2="122.40" stroke="#b0b0b0" stroke-width="0.5" />
<text x="438.80" y="121.70" font-size="3.0" text-anchor="start" fill="#000" textLength="27.099999999999966" lengthAdjust="spacingAndGlyphs" class="th">Zero cross at 7435</text>
<polyline points="389.70,65.70 390.60,61.19 391.40,56.48 392.30,56.44 393.10,52.70 394.00,51.43 394.80,46.78 395.70,45.32 396.50,40.61 397.40,39.06 398.00,38.70 398.60,36.96 399.10,36.88 399.60,33.97 400.20,34.12 400.80,36.59 401.70,35.75 402.60,38.81 403.30,36.58 404.20,40.22 405.10,40.66 405.90,39.78 406.80,34.77 407.60,32.13 408.50,27.10 409.20,29.91 409.90,26.25 410.50,29.05 411.10,28.81 411.90,28.05 412.80,27.60 413.40,30.54 414.00,31.81 414.60,29.55 415.10,26.15 415.70,29.28 416.30,28.69 417.50,29.81 418.20,30.13 418.80,32.02 419.60,32.79 420.50,35.15 421.30,32.34 422.20,34.13 423.10,34.58 424.00,34.79 424.80,35.28 425.60,38.28 426.50,36.98 427.40,39.59 428.10,40.66 428.80,42.59 429.40,39.25 430.00,38.64 430.80,39.10 431.70,39.81 432.30,36.16 432.90,38.45 433.40,40.36 433.90,44.22 434.50,39.60 435.10,38.18 436.00,37.54 436.80,39.90 438.00,42.43 439.40,47.17 440.60,49.24 441.90,53.60 442.80,54.06 443.70,55.94 444.30,56.40 444.80,58.20 445.50,55.08 446.20,55.37 447.00,55.94 447.90,59.31 448.60,59.20 449.30,61.86 450.00,62.49 450.60,63.95 451.40,63.22 452.30,65.73 453.10,63.60 454.00,66.30 454.80,65.00 455.70,68.18 456.60,68.32 457.40,72.34 458.30,66.31 459.10,64.77 460.00,60.16 460.80,63.45 461.70,61.62 462.70,60.66 463.80,58.31 464.40,61.67 465.10,61.62 465.90,63.90 466.80,63.99 467.60,64.41 468.50,64.77 469.40,67.35 470.30,67.27 471.10,66.95 472.00,63.29 472.80,66.38 473.70,65.98 474.60,65.90 475.40,65.04 476.20,67.51 477.10,66.33 478.00,69.14 478.80,68.48 479.60,68.99 480.50,66.79 481.30,69.84 482.20,69.54 483.10,70.48 484.00,67.67 484.80,67.37 485.70,66.32 486.50,69.96 487.40,69.74 488.20,70.59 489.10,67.40 490.00,69.34 490.80,69.62 491.80,68.99 492.90,66.77 493.60,70.30 494.20,69.73 495.20,72.60 496.30,72.96 497.20,75.76 498.00,76.06 498.70,72.40 499.40,66.64 500.00,70.37 500.70,70.42 501.70,67.68 502.80,63.10" fill="none" stroke="#22ad3f" stroke-width="1.4" stroke-linejoin="round"/>
<line x1="389.60" y1="24.60" x2="509.00" y2="24.60" stroke="#3a3a3a" stroke-width="1" />
<line x1="509.00" y1="24.60" x2="509.00" y2="139.00" stroke="#555" stroke-width="1.1" />
<line x1="389.10" y1="139.00" x2="509.50" y2="139.00" stroke="#333" stroke-width="1" />
<line x1="389.60" y1="24.10" x2="389.60" y2="79.50" stroke="#444" stroke-width="1.1" />
<line x1="390.60" y1="25.10" x2="390.60" y2="79.50" stroke="#b8b8b8" stroke-width="0.8" />
<line x1="389.90" y1="79.50" x2="389.90" y2="139.00" stroke="#6e6e6e" stroke-width="1.2" />
<line x1="387.00" y1="27.30" x2="389.60" y2="27.30" stroke="#333" stroke-width="0.9" />
<text x="385.00" y="29.20" font-size="5.4" text-anchor="end" fill="#222" >0.10</text>
<line x1="387.00" y1="34.80" x2="389.60" y2="34.80" stroke="#333" stroke-width="0.9" />
<text x="385.00" y="36.70" font-size="5.4" text-anchor="end" fill="#222" >0.08</text>
<line x1="387.00" y1="42.10" x2="389.60" y2="42.10" stroke="#333" stroke-width="0.9" />
<text x="385.00" y="44.00" font-size="5.4" text-anchor="end" fill="#222" >0.06</text>
<line x1="387.00" y1="49.30" x2="389.60" y2="49.30" stroke="#333" stroke-width="0.9" />
<text x="385.00" y="51.20" font-size="5.4" text-anchor="end" fill="#222" >0.04</text>
<line x1="387.00" y1="56.60" x2="389.60" y2="56.60" stroke="#333" stroke-width="0.9" />
<text x="385.00" y="58.50" font-size="5.4" text-anchor="end" fill="#222" >0.02</text>
<line x1="387.00" y1="63.90" x2="389.60" y2="63.90" stroke="#333" stroke-width="0.9" />
<text x="385.00" y="65.80" font-size="5.4" text-anchor="end" fill="#222" >0.00</text>
<line x1="387.00" y1="71.20" x2="389.60" y2="71.20" stroke="#333" stroke-width="0.9" />
<text x="385.00" y="73.10" font-size="5.4" text-anchor="end" fill="#222" >−0.02</text>
<line x1="387.00" y1="78.50" x2="389.60" y2="78.50" stroke="#333" stroke-width="0.9" />
<text x="385.00" y="80.40" font-size="5.4" text-anchor="end" fill="#222" >−0.04</text>
<line x1="387.00" y1="107.70" x2="389.60" y2="107.70" stroke="#333" stroke-width="0.9" />
<text x="385.20" y="109.70" font-size="5.6" text-anchor="end" fill="#222" >10</text>
<line x1="387.00" y1="115.10" x2="389.60" y2="115.10" stroke="#333" stroke-width="0.9" />
<text x="385.20" y="117.10" font-size="5.6" text-anchor="end" fill="#222" >5</text>
<line x1="387.00" y1="122.40" x2="389.60" y2="122.40" stroke="#333" stroke-width="0.9" />
<text x="385.20" y="124.40" font-size="5.6" text-anchor="end" fill="#222" >0</text>
<line x1="387.00" y1="129.80" x2="389.60" y2="129.80" stroke="#333" stroke-width="0.9" />
<text x="385.20" y="131.80" font-size="5.6" text-anchor="end" fill="#222" >−5</text>
<line x1="387.00" y1="137.20" x2="389.60" y2="137.20" stroke="#333" stroke-width="0.9" />
<text x="385.20" y="139.20" font-size="5.6" text-anchor="end" fill="#222" >−10</text>
<text x="389.40" y="149.00" font-size="5.3" text-anchor="middle" fill="#222" >0</text>
<line x1="406.21" y1="139.00" x2="406.21" y2="142.00" stroke="#333" stroke-width="0.9" />
<text x="405.00" y="149.00" font-size="5.3" text-anchor="middle" fill="#222" >2,000</text>
<line x1="422.33" y1="139.00" x2="422.33" y2="142.00" stroke="#333" stroke-width="0.9" />
<text x="422.00" y="149.00" font-size="5.3" text-anchor="middle" fill="#222" >4,000</text>
<line x1="438.44" y1="139.00" x2="438.44" y2="142.00" stroke="#333" stroke-width="0.9" />
<text x="438.60" y="149.00" font-size="5.3" text-anchor="middle" fill="#222" >6,000</text>
<line x1="454.56" y1="139.00" x2="454.56" y2="142.00" stroke="#333" stroke-width="0.9" />
<text x="455.25" y="149.00" font-size="5.3" text-anchor="middle" fill="#222" >8,000</text>
<line x1="470.67" y1="139.00" x2="470.67" y2="142.00" stroke="#333" stroke-width="0.9" />
<text x="471.90" y="149.00" font-size="5.3" text-anchor="middle" fill="#222" >10,000</text>
<line x1="486.79" y1="139.00" x2="486.79" y2="142.00" stroke="#333" stroke-width="0.9" />
<text x="488.80" y="149.00" font-size="5.3" text-anchor="middle" fill="#222" >12,000</text>
<line x1="502.90" y1="139.00" x2="502.90" y2="142.00" stroke="#333" stroke-width="0.9" />
<text x="505.80" y="149.00" font-size="5.3" text-anchor="middle" fill="#222" >14,000</text>
<text x="385.00" y="19.00" font-size="6.6" text-anchor="start" fill="#2a2a2a" textLength="125.6" lengthAdjust="spacingAndGlyphs" class="ns">Enrichment plot: HALLMARK_P53_PATHWAY</text>
<text x="476.80" y="33.40" font-size="5.5" text-anchor="start" fill="#1a1a1a" class="ns">NES: 1.62</text>
<text x="476.80" y="40.50" font-size="5.5" text-anchor="start" fill="#1a1a1a" class="ns">FDR: 0.13</text>
<text x="476.80" y="47.30" font-size="5.5" text-anchor="start" fill="#1a1a1a" class="ns"><tspan font-style="italic">P</tspan>: 0.04</text>
<text x="449.30" y="156.80" font-size="6.4" text-anchor="middle" fill="#111" textLength="46" lengthAdjust="spacingAndGlyphs" >Rank in ordered dataset</text>
<text transform="translate(370.00,51.60) rotate(-90)" font-size="6.5" text-anchor="middle" fill="#222" textLength="43.3" lengthAdjust="spacingAndGlyphs">Enrichment score (ES)</text>
<text transform="translate(374.00,119.80) rotate(-90)" font-size="6.8" text-anchor="middle" fill="#222" textLength="61.0" lengthAdjust="spacingAndGlyphs">Ranked list metric (PreRanked)</text>
<text x="392.20" y="108.9" font-size="6.6" font-style="italic" fill="#d33a4c" class="r">Mx1<tspan font-size="3.5" dy="-2.6" dx="0.4">Cre</tspan><tspan dy="2.6" dx="1.2">Sbds</tspan><tspan font-size="3.5" dy="-2.6" dx="0.3">Exc</tspan></text>
<text x="461.80" y="136.4" font-size="6.35" fill="#3a74ad" class="bl"><tspan font-style="italic">Sbds</tspan><tspan font-size="3.0" dy="-2.6" font-style="italic">fl/fl</tspan><tspan dy="2.6" dx="0.9">control</tspan></text>
<rect x="386.30" y="159.6" width="124.70" height="7.5" fill="#fff" stroke="#555" stroke-width="0.9"/>
<line x1="388.40" y1="163.40" x2="392.80" y2="163.40" stroke="#22ad3f" stroke-width="1.1" />
<text x="393.80" y="165.20" font-size="5.4" text-anchor="start" fill="#222" textLength="40.2" lengthAdjust="spacingAndGlyphs" class="th">Enrichment profile</text>
<line x1="437.50" y1="163.40" x2="440.90" y2="163.40" stroke="#777" stroke-width="0.6" />
<text x="442.50" y="165.20" font-size="5.4" text-anchor="start" fill="#222" textLength="8.7" lengthAdjust="spacingAndGlyphs" class="th">Hits</text>
<line x1="454.80" y1="163.40" x2="458.60" y2="163.40" stroke="#aaa" stroke-width="0.6" />
<text x="460.30" y="165.20" font-size="5.4" text-anchor="start" fill="#222" textLength="49.2" lengthAdjust="spacingAndGlyphs" class="th">Ranking metric scores</text>
<text transform="translate(4.7,13.6) scale(1.13,1)" font-size="10.2" font-weight="bold" fill="#000" class="ns">A</text>
<text transform="translate(361.8,13.6) scale(1.13,1)" font-size="10.2" font-weight="bold" fill="#000" class="ns">B</text>
<text transform="translate(4.7,188.6) scale(1.13,1)" font-size="10.2" font-weight="bold" fill="#000" class="ns">C</text>
<text transform="translate(241.8,188.2) scale(1.13,1)" font-size="10.2" font-weight="bold" fill="#000" class="ns">D</text>
<line x1="48.75" y1="270.00" x2="48.75" y2="266.36" stroke="#333" stroke-width="0.8" />
<line x1="47.45" y1="266.36" x2="50.05" y2="266.36" stroke="#333" stroke-width="0.8" />
<rect x="46.20" y="270.00" width="5.10" height="6.30" fill="#c8213b" stroke="#c0112e" stroke-width="0.45"/>
<line x1="48.75" y1="276.30" x2="48.75" y2="279.50" stroke="#333" stroke-width="0.8" />
<text transform="translate(51.85,282.4) rotate(-90)" font-size="7.9" font-style="italic" text-anchor="end" fill="#2a2a2a">Trp53</text>
<line x1="57.92" y1="261.60" x2="57.92" y2="257.54" stroke="#333" stroke-width="0.8" />
<line x1="56.62" y1="257.54" x2="59.22" y2="257.54" stroke="#333" stroke-width="0.8" />
<rect x="55.37" y="261.60" width="5.10" height="14.70" fill="#c8213b" stroke="#c0112e" stroke-width="0.45"/>
<path d="M54.62,251.05L54.62,253.35M53.62,251.62L55.62,252.77M55.62,251.62L53.62,252.77" stroke="#1a1a1a" stroke-width="0.8" stroke-linecap="round" fill="none"/>
<path d="M57.92,251.05L57.92,253.35M56.92,251.62L58.92,252.77M58.92,251.62L56.92,252.77" stroke="#1a1a1a" stroke-width="0.8" stroke-linecap="round" fill="none"/>
<path d="M61.22,251.05L61.22,253.35M60.22,251.62L62.22,252.77M62.22,251.62L60.22,252.77" stroke="#1a1a1a" stroke-width="0.8" stroke-linecap="round" fill="none"/>
<line x1="57.92" y1="276.30" x2="57.92" y2="279.50" stroke="#333" stroke-width="0.8" />
<text transform="translate(61.02,282.4) rotate(-90)" font-size="7.9" font-style="italic" text-anchor="end" fill="#2a2a2a">Abhd4</text>
<line x1="67.09" y1="264.05" x2="67.09" y2="260.34" stroke="#333" stroke-width="0.8" />
<line x1="65.79" y1="260.34" x2="68.39" y2="260.34" stroke="#333" stroke-width="0.8" />
<rect x="64.54" y="264.05" width="5.10" height="12.25" fill="#c8213b" stroke="#c0112e" stroke-width="0.45"/>
<path d="M65.44,254.75L65.44,257.05M64.44,255.33L66.44,256.48M66.44,255.33L64.44,256.48" stroke="#1a1a1a" stroke-width="0.8" stroke-linecap="round" fill="none"/>
<path d="M68.74,254.75L68.74,257.05M67.74,255.33L69.74,256.48M69.74,255.33L67.74,256.48" stroke="#1a1a1a" stroke-width="0.8" stroke-linecap="round" fill="none"/>
<line x1="67.09" y1="276.30" x2="67.09" y2="279.50" stroke="#333" stroke-width="0.8" />
<text transform="translate(70.19,282.4) rotate(-90)" font-size="7.9" font-style="italic" text-anchor="end" fill="#2a2a2a">Aen</text>
<line x1="76.26" y1="263.84" x2="76.26" y2="259.50" stroke="#333" stroke-width="0.8" />
<line x1="74.96" y1="259.50" x2="77.56" y2="259.50" stroke="#333" stroke-width="0.8" />
<rect x="73.71" y="263.84" width="5.10" height="12.46" fill="#c8213b" stroke="#c0112e" stroke-width="0.45"/>
<path d="M74.61,253.05L74.61,255.35M73.61,253.62L75.61,254.77M75.61,253.62L73.61,254.77" stroke="#1a1a1a" stroke-width="0.8" stroke-linecap="round" fill="none"/>
<path d="M77.91,253.05L77.91,255.35M76.91,253.62L78.91,254.77M78.91,253.62L76.91,254.77" stroke="#1a1a1a" stroke-width="0.8" stroke-linecap="round" fill="none"/>
<line x1="76.26" y1="276.30" x2="76.26" y2="279.50" stroke="#333" stroke-width="0.8" />
<text transform="translate(79.36,282.4) rotate(-90)" font-size="7.9" font-style="italic" text-anchor="end" fill="#2a2a2a">Bbc3</text>
<line x1="85.43" y1="259.50" x2="85.43" y2="255.30" stroke="#333" stroke-width="0.8" />
<line x1="84.13" y1="255.30" x2="86.73" y2="255.30" stroke="#333" stroke-width="0.8" />
<rect x="82.88" y="259.50" width="5.10" height="16.80" fill="#c8213b" stroke="#c0112e" stroke-width="0.45"/>
<path d="M82.13,244.65L82.13,246.95M81.13,245.23L83.13,246.38M83.13,245.23L81.13,246.38" stroke="#1a1a1a" stroke-width="0.8" stroke-linecap="round" fill="none"/>
<path d="M85.43,244.65L85.43,246.95M84.43,245.23L86.43,246.38M86.43,245.23L84.43,246.38" stroke="#1a1a1a" stroke-width="0.8" stroke-linecap="round" fill="none"/>
<path d="M88.73,244.65L88.73,246.95M87.73,245.23L89.73,246.38M89.73,245.23L87.73,246.38" stroke="#1a1a1a" stroke-width="0.8" stroke-linecap="round" fill="none"/>
<line x1="85.43" y1="276.30" x2="85.43" y2="279.50" stroke="#333" stroke-width="0.8" />
<text transform="translate(88.53,282.4) rotate(-90)" font-size="7.9" font-style="italic" text-anchor="end" fill="#2a2a2a">Bcl2</text>
<line x1="94.60" y1="221.28" x2="94.60" y2="199.44" stroke="#333" stroke-width="0.8" />
<line x1="93.30" y1="199.44" x2="95.90" y2="199.44" stroke="#333" stroke-width="0.8" />
<rect x="92.05" y="221.28" width="5.10" height="55.02" fill="#c8213b" stroke="#c0112e" stroke-width="0.45"/>
<path d="M94.60,194.25L94.60,196.55M93.60,194.83L95.60,195.97M95.60,194.83L93.60,195.97" stroke="#1a1a1a" stroke-width="0.8" stroke-linecap="round" fill="none"/>
<line x1="94.60" y1="276.30" x2="94.60" y2="279.50" stroke="#333" stroke-width="0.8" />
<text transform="translate(97.70,282.4) rotate(-90)" font-size="7.9" font-style="italic" text-anchor="end" fill="#2a2a2a">Clca2</text>
<line x1="103.77" y1="245.64" x2="103.77" y2="241.30" stroke="#333" stroke-width="0.8" />
<line x1="102.47" y1="241.30" x2="105.07" y2="241.30" stroke="#333" stroke-width="0.8" />
<rect x="101.22" y="245.64" width="5.10" height="30.66" fill="#c8213b" stroke="#c0112e" stroke-width="0.45"/>
<path d="M100.47,235.45L100.47,237.75M99.47,236.03L101.47,237.17M101.47,236.03L99.47,237.17" stroke="#1a1a1a" stroke-width="0.8" stroke-linecap="round" fill="none"/>
<path d="M103.77,235.45L103.77,237.75M102.77,236.03L104.77,237.17M104.77,236.03L102.77,237.17" stroke="#1a1a1a" stroke-width="0.8" stroke-linecap="round" fill="none"/>
<path d="M107.07,235.45L107.07,237.75M106.07,236.03L108.07,237.17M108.07,236.03L106.07,237.17" stroke="#1a1a1a" stroke-width="0.8" stroke-linecap="round" fill="none"/>
<line x1="103.77" y1="276.30" x2="103.77" y2="279.50" stroke="#333" stroke-width="0.8" />
<text transform="translate(106.87,282.4) rotate(-90)" font-size="7.9" font-style="italic" text-anchor="end" fill="#2a2a2a">Ddit4</text>
<line x1="112.94" y1="265.45" x2="112.94" y2="262.30" stroke="#333" stroke-width="0.8" />
<line x1="111.64" y1="262.30" x2="114.24" y2="262.30" stroke="#333" stroke-width="0.8" />
<rect x="110.39" y="265.45" width="5.10" height="10.85" fill="#c8213b" stroke="#c0112e" stroke-width="0.45"/>
<path d="M109.64,256.85L109.64,259.15M108.64,257.43L110.64,258.57M110.64,257.43L108.64,258.57" stroke="#1a1a1a" stroke-width="0.8" stroke-linecap="round" fill="none"/>
<path d="M112.94,256.85L112.94,259.15M111.94,257.43L113.94,258.57M113.94,257.43L111.94,258.57" stroke="#1a1a1a" stroke-width="0.8" stroke-linecap="round" fill="none"/>
<path d="M116.24,256.85L116.24,259.15M115.24,257.43L117.24,258.57M117.24,257.43L115.24,258.57" stroke="#1a1a1a" stroke-width="0.8" stroke-linecap="round" fill="none"/>
<line x1="112.94" y1="276.30" x2="112.94" y2="279.50" stroke="#333" stroke-width="0.8" />
<text transform="translate(116.04,282.4) rotate(-90)" font-size="7.9" font-style="italic" text-anchor="end" fill="#2a2a2a">Ei24</text>
<line x1="122.11" y1="251.45" x2="122.11" y2="245.22" stroke="#333" stroke-width="0.8" />
<line x1="120.81" y1="245.22" x2="123.41" y2="245.22" stroke="#333" stroke-width="0.8" />
<rect x="119.56" y="251.45" width="5.10" height="24.85" fill="#c8213b" stroke="#c0112e" stroke-width="0.45"/>
<path d="M118.81,240.95L118.81,243.25M117.81,241.53L119.81,242.67M119.81,241.53L117.81,242.67" stroke="#1a1a1a" stroke-width="0.8" stroke-linecap="round" fill="none"/>
<path d="M122.11,240.95L122.11,243.25M121.11,241.53L123.11,242.67M123.11,241.53L121.11,242.67" stroke="#1a1a1a" stroke-width="0.8" stroke-linecap="round" fill="none"/>
<path d="M125.41,240.95L125.41,243.25M124.41,241.53L126.41,242.67M126.41,241.53L124.41,242.67" stroke="#1a1a1a" stroke-width="0.8" stroke-linecap="round" fill="none"/>
<line x1="122.11" y1="276.30" x2="122.11" y2="279.50" stroke="#333" stroke-width="0.8" />
<text transform="translate(125.21,282.4) rotate(-90)" font-size="7.9" font-style="italic" text-anchor="end" fill="#2a2a2a">Ercc5</text>
<line x1="131.28" y1="265.80" x2="131.28" y2="260.48" stroke="#333" stroke-width="0.8" />
<line x1="129.98" y1="260.48" x2="132.58" y2="260.48" stroke="#333" stroke-width="0.8" />
<rect x="128.73" y="265.80" width="5.10" height="10.50" fill="#c8213b" stroke="#c0112e" stroke-width="0.45"/>
<line x1="131.28" y1="276.30" x2="131.28" y2="279.50" stroke="#333" stroke-width="0.8" />
<text transform="translate(134.38,282.4) rotate(-90)" font-size="7.9" font-style="italic" text-anchor="end" fill="#2a2a2a">Gadd45a</text>
<line x1="140.45" y1="260.06" x2="140.45" y2="255.44" stroke="#333" stroke-width="0.8" />
<line x1="139.15" y1="255.44" x2="141.75" y2="255.44" stroke="#333" stroke-width="0.8" />
<rect x="137.90" y="260.06" width="5.10" height="16.24" fill="#c8213b" stroke="#c0112e" stroke-width="0.45"/>
<path d="M137.15,250.25L137.15,252.55M136.15,250.83L138.15,251.97M138.15,250.83L136.15,251.97" stroke="#1a1a1a" stroke-width="0.8" stroke-linecap="round" fill="none"/>
<path d="M140.45,250.25L140.45,252.55M139.45,250.83L141.45,251.97M141.45,250.83L139.45,251.97" stroke="#1a1a1a" stroke-width="0.8" stroke-linecap="round" fill="none"/>
<path d="M143.75,250.25L143.75,252.55M142.75,250.83L144.75,251.97M144.75,250.83L142.75,251.97" stroke="#1a1a1a" stroke-width="0.8" stroke-linecap="round" fill="none"/>
<line x1="140.45" y1="276.30" x2="140.45" y2="279.50" stroke="#333" stroke-width="0.8" />
<text transform="translate(143.55,282.4) rotate(-90)" font-size="7.9" font-style="italic" text-anchor="end" fill="#2a2a2a">Hmox1</text>
<line x1="149.62" y1="255.02" x2="149.62" y2="251.10" stroke="#333" stroke-width="0.8" />
<line x1="148.32" y1="251.10" x2="150.92" y2="251.10" stroke="#333" stroke-width="0.8" />
<rect x="147.07" y="255.02" width="5.10" height="21.28" fill="#c8213b" stroke="#c0112e" stroke-width="0.45"/>
<path d="M146.32,244.05L146.32,246.35M145.32,244.62L147.32,245.77M147.32,244.62L145.32,245.77" stroke="#1a1a1a" stroke-width="0.8" stroke-linecap="round" fill="none"/>
<path d="M149.62,244.05L149.62,246.35M148.62,244.62L150.62,245.77M150.62,244.62L148.62,245.77" stroke="#1a1a1a" stroke-width="0.8" stroke-linecap="round" fill="none"/>
<path d="M152.92,244.05L152.92,246.35M151.92,244.62L153.92,245.77M153.92,244.62L151.92,245.77" stroke="#1a1a1a" stroke-width="0.8" stroke-linecap="round" fill="none"/>
<line x1="149.62" y1="276.30" x2="149.62" y2="279.50" stroke="#333" stroke-width="0.8" />
<text transform="translate(152.72,282.4) rotate(-90)" font-size="7.9" font-style="italic" text-anchor="end" fill="#2a2a2a">Iscu</text>
<line x1="158.79" y1="270.70" x2="158.79" y2="265.94" stroke="#333" stroke-width="0.8" />
<line x1="157.49" y1="265.94" x2="160.09" y2="265.94" stroke="#333" stroke-width="0.8" />
<rect x="156.24" y="270.70" width="5.10" height="5.60" fill="#c8213b" stroke="#c0112e" stroke-width="0.45"/>
<line x1="158.79" y1="276.30" x2="158.79" y2="279.50" stroke="#333" stroke-width="0.8" />
<text transform="translate(161.89,282.4) rotate(-90)" font-size="7.9" font-style="italic" text-anchor="end" fill="#2a2a2a">Mdm2</text>
<line x1="167.96" y1="257.26" x2="167.96" y2="253.20" stroke="#333" stroke-width="0.8" />
<line x1="166.66" y1="253.20" x2="169.26" y2="253.20" stroke="#333" stroke-width="0.8" />
<rect x="165.41" y="257.26" width="5.10" height="19.04" fill="#c8213b" stroke="#c0112e" stroke-width="0.45"/>
<path d="M164.66,248.75L164.66,251.05M163.66,249.33L165.66,250.47M165.66,249.33L163.66,250.47" stroke="#1a1a1a" stroke-width="0.8" stroke-linecap="round" fill="none"/>
<path d="M167.96,248.75L167.96,251.05M166.96,249.33L168.96,250.47M168.96,249.33L166.96,250.47" stroke="#1a1a1a" stroke-width="0.8" stroke-linecap="round" fill="none"/>
<path d="M171.26,248.75L171.26,251.05M170.26,249.33L172.26,250.47M172.26,249.33L170.26,250.47" stroke="#1a1a1a" stroke-width="0.8" stroke-linecap="round" fill="none"/>
<line x1="167.96" y1="276.30" x2="167.96" y2="279.50" stroke="#333" stroke-width="0.8" />
<text transform="translate(171.06,282.4) rotate(-90)" font-size="7.9" font-style="italic" text-anchor="end" fill="#2a2a2a">Nupr1</text>
<line x1="177.13" y1="265.80" x2="177.13" y2="263.14" stroke="#333" stroke-width="0.8" />
<line x1="175.83" y1="263.14" x2="178.43" y2="263.14" stroke="#333" stroke-width="0.8" />
<rect x="174.58" y="265.80" width="5.10" height="10.50" fill="#c8213b" stroke="#c0112e" stroke-width="0.45"/>
<path d="M173.83,257.65L173.83,259.95M172.83,258.23L174.83,259.38M174.83,258.23L172.83,259.38" stroke="#1a1a1a" stroke-width="0.8" stroke-linecap="round" fill="none"/>
<path d="M177.13,257.65L177.13,259.95M176.13,258.23L178.13,259.38M178.13,258.23L176.13,259.38" stroke="#1a1a1a" stroke-width="0.8" stroke-linecap="round" fill="none"/>
<path d="M180.43,257.65L180.43,259.95M179.43,258.23L181.43,259.38M181.43,258.23L179.43,259.38" stroke="#1a1a1a" stroke-width="0.8" stroke-linecap="round" fill="none"/>
<line x1="177.13" y1="276.30" x2="177.13" y2="279.50" stroke="#333" stroke-width="0.8" />
<text transform="translate(180.23,282.4) rotate(-90)" font-size="7.9" font-style="italic" text-anchor="end" fill="#2a2a2a">Plk2</text>
<line x1="186.30" y1="252.50" x2="186.30" y2="247.18" stroke="#333" stroke-width="0.8" />
<line x1="185.00" y1="247.18" x2="187.60" y2="247.18" stroke="#333" stroke-width="0.8" />
<rect x="183.75" y="252.50" width="5.10" height="23.80" fill="#c8213b" stroke="#c0112e" stroke-width="0.45"/>
<path d="M183.00,241.35L183.00,243.65M182.00,241.93L184.00,243.07M184.00,241.93L182.00,243.07" stroke="#1a1a1a" stroke-width="0.8" stroke-linecap="round" fill="none"/>
<path d="M186.30,241.35L186.30,243.65M185.30,241.93L187.30,243.07M187.30,241.93L185.30,243.07" stroke="#1a1a1a" stroke-width="0.8" stroke-linecap="round" fill="none"/>
<path d="M189.60,241.35L189.60,243.65M188.60,241.93L190.60,243.07M190.60,241.93L188.60,243.07" stroke="#1a1a1a" stroke-width="0.8" stroke-linecap="round" fill="none"/>
<line x1="186.30" y1="276.30" x2="186.30" y2="279.50" stroke="#333" stroke-width="0.8" />
<text transform="translate(189.40,282.4) rotate(-90)" font-size="7.9" font-style="italic" text-anchor="end" fill="#2a2a2a">Ptpn14</text>
<line x1="195.47" y1="255.16" x2="195.47" y2="250.40" stroke="#333" stroke-width="0.8" />
<line x1="194.17" y1="250.40" x2="196.77" y2="250.40" stroke="#333" stroke-width="0.8" />
<rect x="192.92" y="255.16" width="5.10" height="21.14" fill="#c8213b" stroke="#c0112e" stroke-width="0.45"/>
<path d="M192.17,246.25L192.17,248.55M191.17,246.83L193.17,247.97M193.17,246.83L191.17,247.97" stroke="#1a1a1a" stroke-width="0.8" stroke-linecap="round" fill="none"/>
<path d="M195.47,246.25L195.47,248.55M194.47,246.83L196.47,247.97M196.47,246.83L194.47,247.97" stroke="#1a1a1a" stroke-width="0.8" stroke-linecap="round" fill="none"/>
<path d="M198.77,246.25L198.77,248.55M197.77,246.83L199.77,247.97M199.77,246.83L197.77,247.97" stroke="#1a1a1a" stroke-width="0.8" stroke-linecap="round" fill="none"/>
<line x1="195.47" y1="276.30" x2="195.47" y2="279.50" stroke="#333" stroke-width="0.8" />
<text transform="translate(198.57,282.4) rotate(-90)" font-size="7.9" font-style="italic" text-anchor="end" fill="#2a2a2a">Slc19a2</text>
<line x1="204.64" y1="259.36" x2="204.64" y2="256.56" stroke="#333" stroke-width="0.8" />
<line x1="203.34" y1="256.56" x2="205.94" y2="256.56" stroke="#333" stroke-width="0.8" />
<rect x="202.09" y="259.36" width="5.10" height="16.94" fill="#c8213b" stroke="#c0112e" stroke-width="0.45"/>
<path d="M201.34,252.45L201.34,254.75M200.34,253.03L202.34,254.17M202.34,253.03L200.34,254.17" stroke="#1a1a1a" stroke-width="0.8" stroke-linecap="round" fill="none"/>
<path d="M204.64,252.45L204.64,254.75M203.64,253.03L205.64,254.17M205.64,253.03L203.64,254.17" stroke="#1a1a1a" stroke-width="0.8" stroke-linecap="round" fill="none"/>
<path d="M207.94,252.45L207.94,254.75M206.94,253.03L208.94,254.17M208.94,253.03L206.94,254.17" stroke="#1a1a1a" stroke-width="0.8" stroke-linecap="round" fill="none"/>
<line x1="204.64" y1="276.30" x2="204.64" y2="279.50" stroke="#333" stroke-width="0.8" />
<text transform="translate(207.74,282.4) rotate(-90)" font-size="7.9" font-style="italic" text-anchor="end" fill="#2a2a2a">Zmat3</text>
<line x1="43.10" y1="192.20" x2="210.60" y2="192.20" stroke="#333" stroke-width="1.1" />
<line x1="210.60" y1="192.20" x2="210.60" y2="276.30" stroke="#333" stroke-width="1.1" />
<line x1="43.10" y1="191.70" x2="43.10" y2="276.80" stroke="#333" stroke-width="1.1" />
<line x1="43.10" y1="276.30" x2="211.10" y2="276.30" stroke="#333" stroke-width="1.1" />
<line x1="40.10" y1="276.30" x2="43.10" y2="276.30" stroke="#333" stroke-width="0.9" />
<text x="37.40" y="278.85" font-size="7.2" text-anchor="end" fill="#333" >0</text>
<line x1="40.10" y1="262.30" x2="43.10" y2="262.30" stroke="#333" stroke-width="0.9" />
<text x="37.40" y="264.85" font-size="7.2" text-anchor="end" fill="#333" >1</text>
<line x1="40.10" y1="248.30" x2="43.10" y2="248.30" stroke="#333" stroke-width="0.9" />
<text x="37.40" y="250.85" font-size="7.2" text-anchor="end" fill="#333" >2</text>
<line x1="40.10" y1="234.30" x2="43.10" y2="234.30" stroke="#333" stroke-width="0.9" />
<text x="37.40" y="236.85" font-size="7.2" text-anchor="end" fill="#333" >3</text>
<line x1="40.10" y1="220.30" x2="43.10" y2="220.30" stroke="#333" stroke-width="0.9" />
<text x="37.40" y="222.85" font-size="7.2" text-anchor="end" fill="#333" >4</text>
<line x1="40.10" y1="206.30" x2="43.10" y2="206.30" stroke="#333" stroke-width="0.9" />
<text x="37.40" y="208.85" font-size="7.2" text-anchor="end" fill="#333" >5</text>
<line x1="40.10" y1="192.30" x2="43.10" y2="192.30" stroke="#333" stroke-width="0.9" />
<text x="37.40" y="194.85" font-size="7.2" text-anchor="end" fill="#333" >6</text>
<text transform="translate(24.6,230.6) rotate(-90)" font-size="8.4" text-anchor="middle" fill="#333" textLength="46.5" lengthAdjust="spacingAndGlyphs">Log<tspan font-size="4.5" dy="1.6">2</tspan><tspan dy="-1.6">FoldChange</tspan></text>
<path d="M48.6,317.6 V321.1 H208.4 V317.6" fill="none" stroke="#555" stroke-width="0.9"/>
<text x="104.0" y="331.0" font-size="8.0" font-style="italic" fill="#222" textLength="11.6" lengthAdjust="spacingAndGlyphs">p53</text>
<text x="116.7" y="331.0" font-size="8.0" fill="#222" textLength="35.8" lengthAdjust="spacingAndGlyphs">target genes</text>
<line x1="260.70" y1="279.00" x2="263.80" y2="279.00" stroke="#333" stroke-width="0.9" />
<text x="258.80" y="281.55" font-size="7.2" text-anchor="end" fill="#333" >0</text>
<line x1="260.70" y1="257.30" x2="263.80" y2="257.30" stroke="#333" stroke-width="0.9" />
<text x="258.80" y="259.85" font-size="7.2" text-anchor="end" fill="#333" >2</text>
<line x1="260.70" y1="235.60" x2="263.80" y2="235.60" stroke="#333" stroke-width="0.9" />
<text x="258.80" y="238.15" font-size="7.2" text-anchor="end" fill="#333" >4</text>
<line x1="260.70" y1="213.90" x2="263.80" y2="213.90" stroke="#333" stroke-width="0.9" />
<text x="258.80" y="216.45" font-size="7.2" text-anchor="end" fill="#333" >6</text>
<line x1="260.70" y1="192.20" x2="263.80" y2="192.20" stroke="#333" stroke-width="0.9" />
<text x="258.80" y="194.75" font-size="7.2" text-anchor="end" fill="#333" >8</text>
<text transform="translate(248.8,234.7) rotate(-90)" font-size="8.8" text-anchor="middle" fill="#333" textLength="56.6" lengthAdjust="spacingAndGlyphs">Relative expression</text>
<rect x="267.30" y="268.15" width="7.70" height="10.85" fill="#d61f3c" />
<rect x="278.60" y="267.06" width="7.60" height="11.94" fill="#115083" />
<line x1="276.60" y1="279.00" x2="276.60" y2="282.20" stroke="#333" stroke-width="0.9" />
<text transform="translate(280.60,290.0) rotate(-45)" font-size="7.7" font-style="italic" text-anchor="end" fill="#2a2a2a">Trp53</text>
<rect x="297.00" y="268.15" width="7.70" height="10.85" fill="#d61f3c" />
<rect x="308.30" y="225.51" width="7.60" height="53.49" fill="#115083" />
<line x1="306.30" y1="279.00" x2="306.30" y2="282.20" stroke="#333" stroke-width="0.9" />
<text transform="translate(310.30,290.0) rotate(-45)" font-size="7.7" font-style="italic" text-anchor="end" fill="#2a2a2a">Ddit4</text>
<rect x="326.70" y="268.15" width="7.70" height="10.85" fill="#d61f3c" />
<rect x="338.00" y="253.29" width="7.60" height="25.71" fill="#115083" />
<line x1="336.00" y1="279.00" x2="336.00" y2="282.20" stroke="#333" stroke-width="0.9" />
<text transform="translate(340.00,290.0) rotate(-45)" font-size="7.7" font-style="italic" text-anchor="end" fill="#2a2a2a">Ercc5</text>
<rect x="356.40" y="268.15" width="7.70" height="10.85" fill="#d61f3c" />
<rect x="367.70" y="240.81" width="7.60" height="38.19" fill="#115083" />
<line x1="365.70" y1="279.00" x2="365.70" y2="282.20" stroke="#333" stroke-width="0.9" />
<text transform="translate(369.70,290.0) rotate(-45)" font-size="7.7" font-style="italic" text-anchor="end" fill="#2a2a2a">Nupr1</text>
<rect x="386.10" y="268.15" width="7.70" height="10.85" fill="#d61f3c" />
<rect x="397.40" y="246.02" width="7.60" height="32.98" fill="#115083" />
<line x1="395.40" y1="279.00" x2="395.40" y2="282.20" stroke="#333" stroke-width="0.9" />
<text transform="translate(399.40,290.0) rotate(-45)" font-size="7.7" font-style="italic" text-anchor="end" fill="#2a2a2a">Plk2</text>
<line x1="263.80" y1="192.30" x2="263.80" y2="279.60" stroke="#333" stroke-width="1.2" />
<line x1="263.30" y1="279.30" x2="408.80" y2="279.30" stroke="#333" stroke-width="1.2" />
<circle cx="271.25" cy="257.50" r="1.05" fill="#0d1517"/>
<circle cx="269.00" cy="270.60" r="1.05" fill="#0d1517"/>
<circle cx="271.25" cy="273.75" r="1.05" fill="#0d1517"/>
<circle cx="273.10" cy="271.90" r="1.05" fill="#0d1517"/>
<circle cx="281.00" cy="264.40" r="1.05" fill="#0d1517"/>
<circle cx="284.40" cy="264.40" r="1.05" fill="#0d1517"/>
<circle cx="282.50" cy="271.90" r="1.05" fill="#0d1517"/>
<circle cx="300.60" cy="262.50" r="1.05" fill="#0d1517"/>
<circle cx="298.75" cy="269.00" r="1.05" fill="#0d1517"/>
<circle cx="301.00" cy="270.60" r="1.05" fill="#0d1517"/>
<circle cx="303.10" cy="270.25" r="1.05" fill="#0d1517"/>
<circle cx="311.90" cy="195.60" r="1.05" fill="#0d1517"/>
<circle cx="311.90" cy="205.60" r="1.05" fill="#0d1517"/>
<circle cx="311.90" cy="220.60" r="1.05" fill="#0d1517"/>
<circle cx="311.90" cy="249.40" r="1.05" fill="#0d1517"/>
<circle cx="330.25" cy="259.40" r="1.05" fill="#0d1517"/>
<circle cx="328.75" cy="270.60" r="1.05" fill="#0d1517"/>
<circle cx="331.25" cy="271.25" r="1.05" fill="#0d1517"/>
<circle cx="332.50" cy="271.25" r="1.05" fill="#0d1517"/>
<circle cx="341.25" cy="241.00" r="1.05" fill="#0d1517"/>
<circle cx="339.60" cy="249.40" r="1.05" fill="#0d1517"/>
<circle cx="343.10" cy="250.90" r="1.05" fill="#0d1517"/>
<circle cx="341.50" cy="260.60" r="1.05" fill="#0d1517"/>
<circle cx="358.10" cy="261.00" r="1.05" fill="#0d1517"/>
<circle cx="361.60" cy="261.90" r="1.05" fill="#0d1517"/>
<circle cx="358.10" cy="275.25" r="1.05" fill="#0d1517"/>
<circle cx="361.60" cy="275.25" r="1.05" fill="#0d1517"/>
<circle cx="371.00" cy="218.50" r="1.05" fill="#0d1517"/>
<circle cx="371.00" cy="228.10" r="1.05" fill="#0d1517"/>
<circle cx="369.60" cy="247.25" r="1.05" fill="#0d1517"/>
<circle cx="373.10" cy="246.90" r="1.05" fill="#0d1517"/>
<circle cx="387.75" cy="261.60" r="1.05" fill="#0d1517"/>
<circle cx="391.25" cy="260.60" r="1.05" fill="#0d1517"/>
<circle cx="389.40" cy="271.90" r="1.05" fill="#0d1517"/>
<circle cx="389.40" cy="279.00" r="1.05" fill="#0d1517"/>
<circle cx="400.60" cy="236.60" r="1.05" fill="#0d1517"/>
<circle cx="399.00" cy="250.60" r="1.05" fill="#0d1517"/>
<circle cx="402.25" cy="249.40" r="1.05" fill="#0d1517"/>
<rect x="388.80" y="196.00" width="12.40" height="6.10" fill="#d61f3c" />
<rect x="388.80" y="209.00" width="12.40" height="6.10" fill="#115083" />
<text x="404.0" y="201.6" font-size="7.2" font-style="italic" fill="#333">Sbds<tspan font-size="4.0" dy="-2.8">fl/fl</tspan></text>
<text x="404.0" y="214.5" font-size="7.2" font-style="italic" fill="#333">Mx1<tspan font-size="4.0" dy="-2.8">Cre</tspan><tspan dy="2.8"> Sbds</tspan><tspan font-size="4.0" dy="-2.8">Exc</tspan></text>
</svg><div class="b"></div></div></body></html>
